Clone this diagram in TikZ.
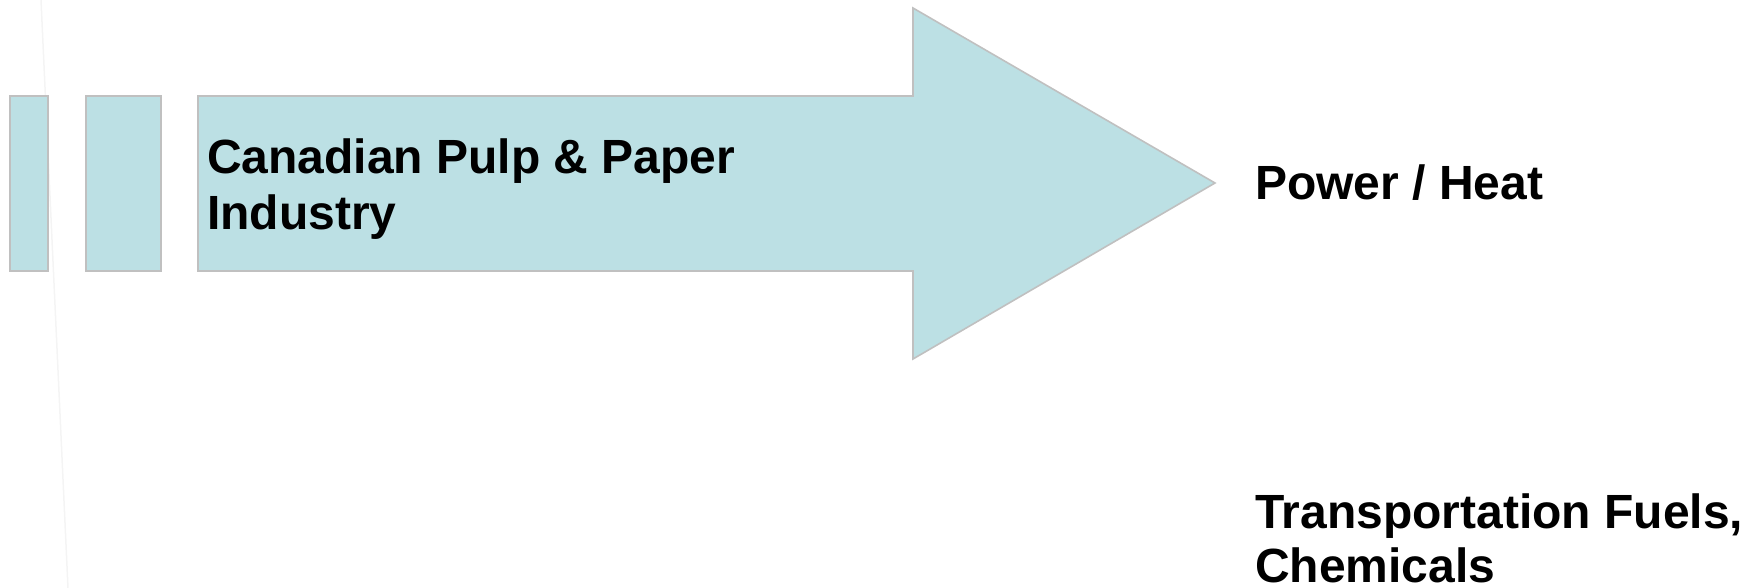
\documentclass[tikz,border=0pt]{standalone}
\usepackage{fontspec}
\setmainfont{Liberation Sans}
\definecolor{arrowfill}{RGB}{188,224,228}
\definecolor{arrowedge}{RGB}{192,192,192}
\definecolor{faintline}{RGB}{244,244,244}
\tikzset{
  shapebox/.style={fill=arrowfill, draw=arrowedge, line width=1.6pt, line join=miter},
  arrowlabel/.style={anchor=base west, inner sep=0pt, align=left, font=\bfseries\fontsize{48}{57}\selectfont},
  outlabel/.style={anchor=base west, inner sep=0pt, align=left, font=\bfseries\fontsize{48}{54}\selectfont},
}
\begin{document}
\begin{tikzpicture}[x=1pt, y=-1pt]
\useasboundingbox (0,0) rectangle (1754,588);
\draw[faintline, line width=1.5pt] (41,0) -- (68,588);
\path[shapebox] (10,96) rectangle (48,271);
\path[shapebox] (86,96) rectangle (161,271);
\path[shapebox] (198,96) -- (913,96) -- (913,8) -- (1215,183) -- (913,359) -- (913,271) -- (198,271) -- cycle;
\node[arrowlabel] (industry) at (207,230) {Canadian Pulp \& Paper\\Industry};
\node[outlabel] (power) at (1255,200) {Power / Heat};
\node[outlabel] (fuels) at (1255,582) {Transportation Fuels,\\Chemicals};
\end{tikzpicture}
\end{document}
